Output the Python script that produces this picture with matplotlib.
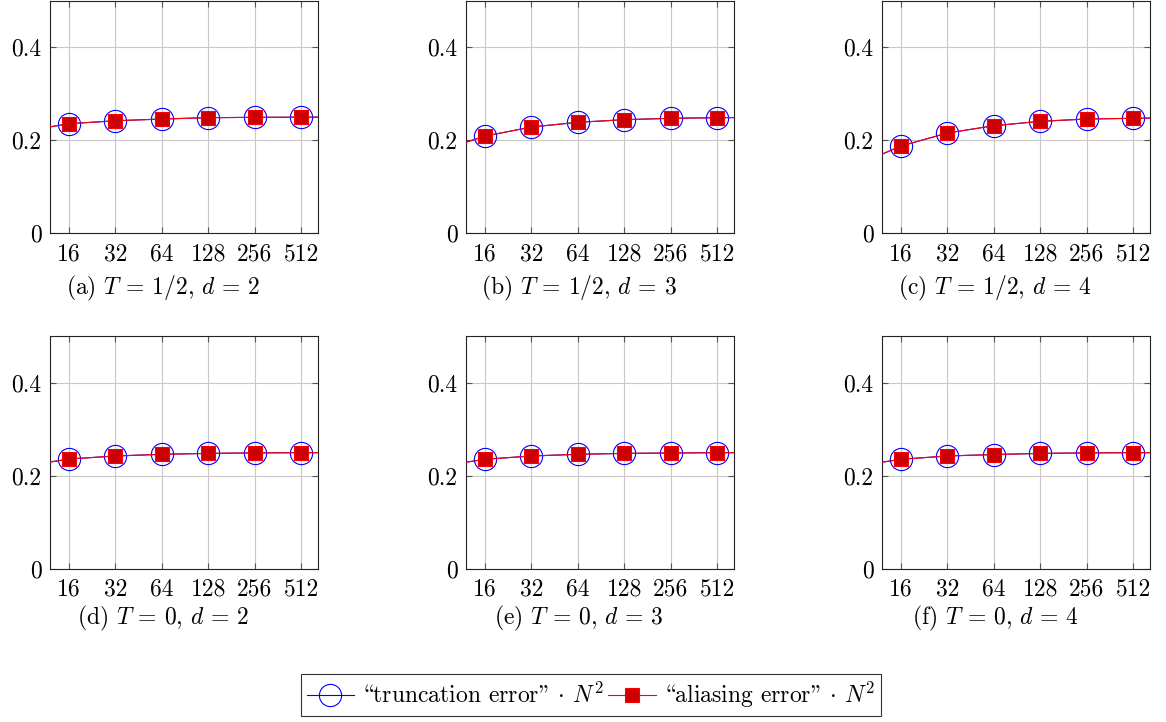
import matplotlib
matplotlib.use("Agg")
import matplotlib.pyplot as plt
from matplotlib.lines import Line2D

plt.rcParams['font.family'] = ['cmr10', 'DejaVu Serif']
plt.rcParams['mathtext.fontset'] = 'cm'
plt.rcParams['axes.formatter.use_mathtext'] = True

# grid sizes (8 and 1024 only carry the line out to the axis edges)
N = [8, 16, 32, 64, 128, 256, 512, 1024]
tick_N = [16, 32, 64, 128, 256, 512]
tick_labels = ['16', '32', '64', '128', '256', '512']
y_ticks = [0, 0.2, 0.4]
y_labels = ['0', '0.2', '0.4']

# "truncation error" * N^2 per panel
trunc_a = [0.219, 0.2357, 0.2420, 0.2458, 0.2486, 0.2494, 0.2497, 0.2499]
trunc_b = [0.177, 0.2090, 0.2286, 0.2387, 0.2443, 0.2473, 0.2486, 0.2493]
trunc_c = [0.145, 0.1877, 0.2157, 0.2314, 0.2408, 0.2458, 0.2473, 0.2487]
trunc_d = [0.220, 0.2359, 0.2424, 0.2460, 0.2480, 0.2490, 0.2495, 0.2498]
trunc_e = [0.220, 0.2353, 0.2424, 0.2460, 0.2480, 0.2488, 0.2495, 0.2498]
trunc_f = [0.220, 0.2353, 0.2424, 0.2455, 0.2480, 0.2490, 0.2495, 0.2498]

# "aliasing error" * N^2 per panel (on top of the truncation values)
alias_a = [0.219, 0.2357, 0.2420, 0.2458, 0.2486, 0.2494, 0.2497, 0.2499]
alias_b = [0.177, 0.2090, 0.2286, 0.2387, 0.2443, 0.2473, 0.2486, 0.2493]
alias_c = [0.145, 0.1877, 0.2157, 0.2314, 0.2408, 0.2458, 0.2473, 0.2487]
alias_d = [0.220, 0.2359, 0.2424, 0.2460, 0.2480, 0.2490, 0.2495, 0.2498]
alias_e = [0.220, 0.2353, 0.2424, 0.2460, 0.2480, 0.2488, 0.2495, 0.2498]
alias_f = [0.220, 0.2353, 0.2424, 0.2455, 0.2480, 0.2490, 0.2495, 0.2498]

captions = ['(a) $T$ = $1/2,\\,d$ = $2$', '(b) $T$ = $1/2,\\,d$ = $3$',
            '(c) $T$ = $1/2,\\,d$ = $4$', '(d) $T$ = $0,\\,d$ = $2$',
            '(e) $T$ = $0,\\,d$ = $3$', '(f) $T$ = $0,\\,d$ = $4$']
trunc_all = [trunc_a, trunc_b, trunc_c, trunc_d, trunc_e, trunc_f]
alias_all = [alias_a, alias_b, alias_c, alias_d, alias_e, alias_f]

FS = 17
W, H = 1166, 722
fig = plt.figure(figsize=(W / 100, H / 100), dpi=100)

lefts = [50, 466, 882]
bottoms = [233.3, 568.7]
ax_w, ax_h = 268, 232.5
cap_y = [288, 618]

for i in range(6):
    r, c = divmod(i, 3)
    x0 = lefts[c]
    ax = fig.add_axes([x0 / W, 1 - bottoms[r] / H, ax_w / W, ax_h / H])
    ax.set_xscale('log', base=2)
    ax.plot(N, trunc_all[i], color='blue', lw=0.8, marker='o', ms=16,
            mfc='none', mec='blue', mew=0.8, zorder=3)
    ax.plot(N, alias_all[i], color='red', lw=0.8, marker='s', ms=9.5,
            mfc='#cc0000', mec='red', mew=0.8, zorder=4)
    ax.set_xlim(2 ** 3.59, 2 ** 9.36)
    ax.set_ylim(0, 0.5)
    ax.minorticks_off()
    ax.set_xticks(tick_N)
    ax.set_xticklabels(tick_labels)
    ax.set_yticks(y_ticks)
    ax.set_yticklabels(y_labels)
    ax.grid(True, color='#c8c8c8', lw=0.8, zorder=0)
    ax.set_axisbelow(True)
    ax.tick_params(direction='in', top=True, right=True, length=4, width=0.8,
                   color='#555555', labelsize=FS)
    ax.tick_params(axis='x', pad=7)
    ax.tick_params(axis='y', pad=6)
    for s in ax.spines.values():
        s.set_linewidth(0.8)
        s.set_color('#222222')
    fig.text((x0 + ax_w / 2 - 21) / W, 1 - cap_y[r] / H, captions[i],
             ha='center', va='center', fontsize=FS)

handles = [
    Line2D([], [], color='blue', lw=0.8, marker='o', ms=16, mfc='none', mec='blue', mew=0.8),
    Line2D([], [], color='red', lw=0.8, marker='s', ms=9.5, mfc='#cc0000', mec='red', mew=0.8),
]
# cmr10 keeps the TeX (OT1) layout: "\" is the opening and '"' the closing double quote
labels = ['\\truncation error" $\\cdot$ $N^2$', '\\aliasing error" $\\cdot$ $N^2$']
leg = fig.legend(handles, labels, loc='center', bbox_to_anchor=(591 / W, 1 - 695 / H),
                 ncol=2, fontsize=FS, frameon=True, fancybox=False, framealpha=1,
                 edgecolor='#333333', handlelength=2.0, handletextpad=0.3,
                 columnspacing=0.2, borderpad=0.25)
leg.get_frame().set_linewidth(0.8)

fig.savefig('out.png', dpi=100)
